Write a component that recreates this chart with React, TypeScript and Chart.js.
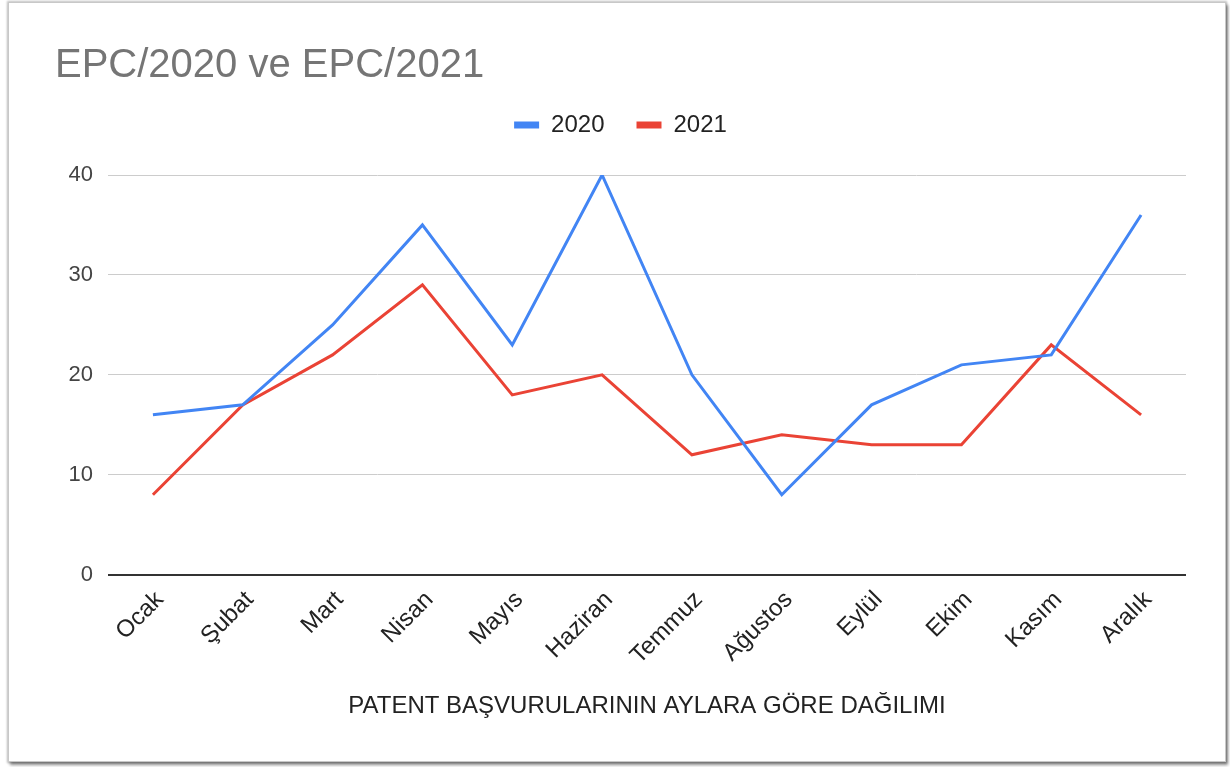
import React, { useEffect, useRef } from 'react';
import { Chart, registerables } from 'chart.js';

Chart.register(...registerables);

const months = ['Ocak', 'Şubat', 'Mart', 'Nisan', 'Mayıs', 'Haziran', 'Temmuz', 'Ağustos', 'Eylül', 'Ekim', 'Kasım', 'Aralık'];
const series2020 = [16, 17, 25, 35, 23, 40, 20, 8, 17, 21, 22, 36];
const series2021 = [8, 17, 22, 29, 18, 20, 12, 14, 13, 13, 23, 16];
const seriesNames = ['2020', '2021'];
const yMin = 0;
const yMax = 40;
const yStep = 10;
const chartTitle = 'EPC/2020 ve EPC/2021';
const xAxisTitle = 'PATENT BAŞVURULARININ AYLARA GÖRE DAĞILIMI';

const FONT = "'Liberation Sans', Arial, Helvetica, sans-serif";

export default function App() {
  const canvasRef = useRef<HTMLCanvasElement | null>(null);

  useEffect(() => {
    if (!canvasRef.current) return;
    Chart.defaults.font.family = FONT;
    const chart = new Chart(canvasRef.current, {
      type: 'line',
      data: {
        labels: months,
        datasets: [
          {
            label: seriesNames[0],
            data: series2020,
            borderColor: '#4285F4',
            backgroundColor: '#4285F4',
            borderWidth: 3,
            pointRadius: 0,
            tension: 0,
          },
          {
            label: seriesNames[1],
            data: series2021,
            borderColor: '#EA4335',
            backgroundColor: '#EA4335',
            borderWidth: 3,
            pointRadius: 0,
            tension: 0,
          },
        ],
      },
      options: {
        responsive: false,
        animation: false,
        layout: { padding: { top: 0, left: 55, right: 44, bottom: 46 } },
        plugins: {
          title: {
            display: true,
            text: chartTitle,
            align: 'start',
            color: '#757575',
            font: { size: 40, weight: 'normal', family: FONT },
            padding: { top: 42, bottom: -9 },
          },
          subtitle: {
            display: true,
            text: '',
            weight: 500,
            font: { size: 1, lineHeight: 1 },
            padding: { top: 27, bottom: 0 },
          } as any,
          legend: {
            display: true,
            position: 'top',
            align: 'center',
            labels: {
              boxWidth: 25,
              boxHeight: 7,
              padding: 32,
              color: '#222',
              font: { size: 24, family: FONT },
              generateLabels: (c: any) =>
                (Chart.defaults.plugins.legend.labels as any)
                  .generateLabels(c)
                  .map((l: any) => ({ ...l, lineWidth: 0 })),
            },
          },
          tooltip: { enabled: false },
        },
        scales: {
          x: {
            offset: true,
            grid: { display: false, drawTicks: false },
            border: { display: false },
            ticks: {
              color: '#222',
              font: { size: 24, family: FONT },
              minRotation: 45,
              maxRotation: 45,
              padding: 11,
              labelOffset: 7,
              autoSkip: false,
            },
            title: {
              display: true,
              text: xAxisTitle,
              color: '#222',
              font: { size: 24, family: FONT },
              padding: { top: 11, bottom: 0 },
            },
          },
          y: {
            min: yMin,
            max: yMax,
            afterFit: (scale: any) => {
              scale.width = 53;
            },
            grid: {
              drawTicks: false,
              color: (ctx: any) => (ctx.tick && ctx.tick.value === 0 ? '#333' : '#cccccc'),
              lineWidth: (ctx: any) => (ctx.tick && ctx.tick.value === 0 ? 2 : 1),
            },
            border: { display: false },
            ticks: {
              stepSize: yStep,
              color: '#444',
              padding: 15,
              font: { size: 22, family: FONT },
            },
          },
        },
      },
    });
    return () => chart.destroy();
  }, []);

  return (
    <div style={{ position: 'fixed', left: 0, top: 0, width: 1230, height: 767, background: '#fff', overflow: 'hidden' }}>
      <div
        style={{
          position: 'absolute',
          left: 8,
          top: 2,
          width: 1216,
          height: 758,
          background: '#fff',
          border: '1px solid #c8c8c8',
          boxShadow: '0 0 2px 1px rgba(0,0,0,0.25), 2px 3px 3px rgba(0,0,0,0.45)',
        }}
      />
      <canvas
        ref={canvasRef}
        width={1230}
        height={767}
        style={{ position: 'absolute', left: 0, top: 0, width: 1230, height: 767 }}
      />
    </div>
  );
}
